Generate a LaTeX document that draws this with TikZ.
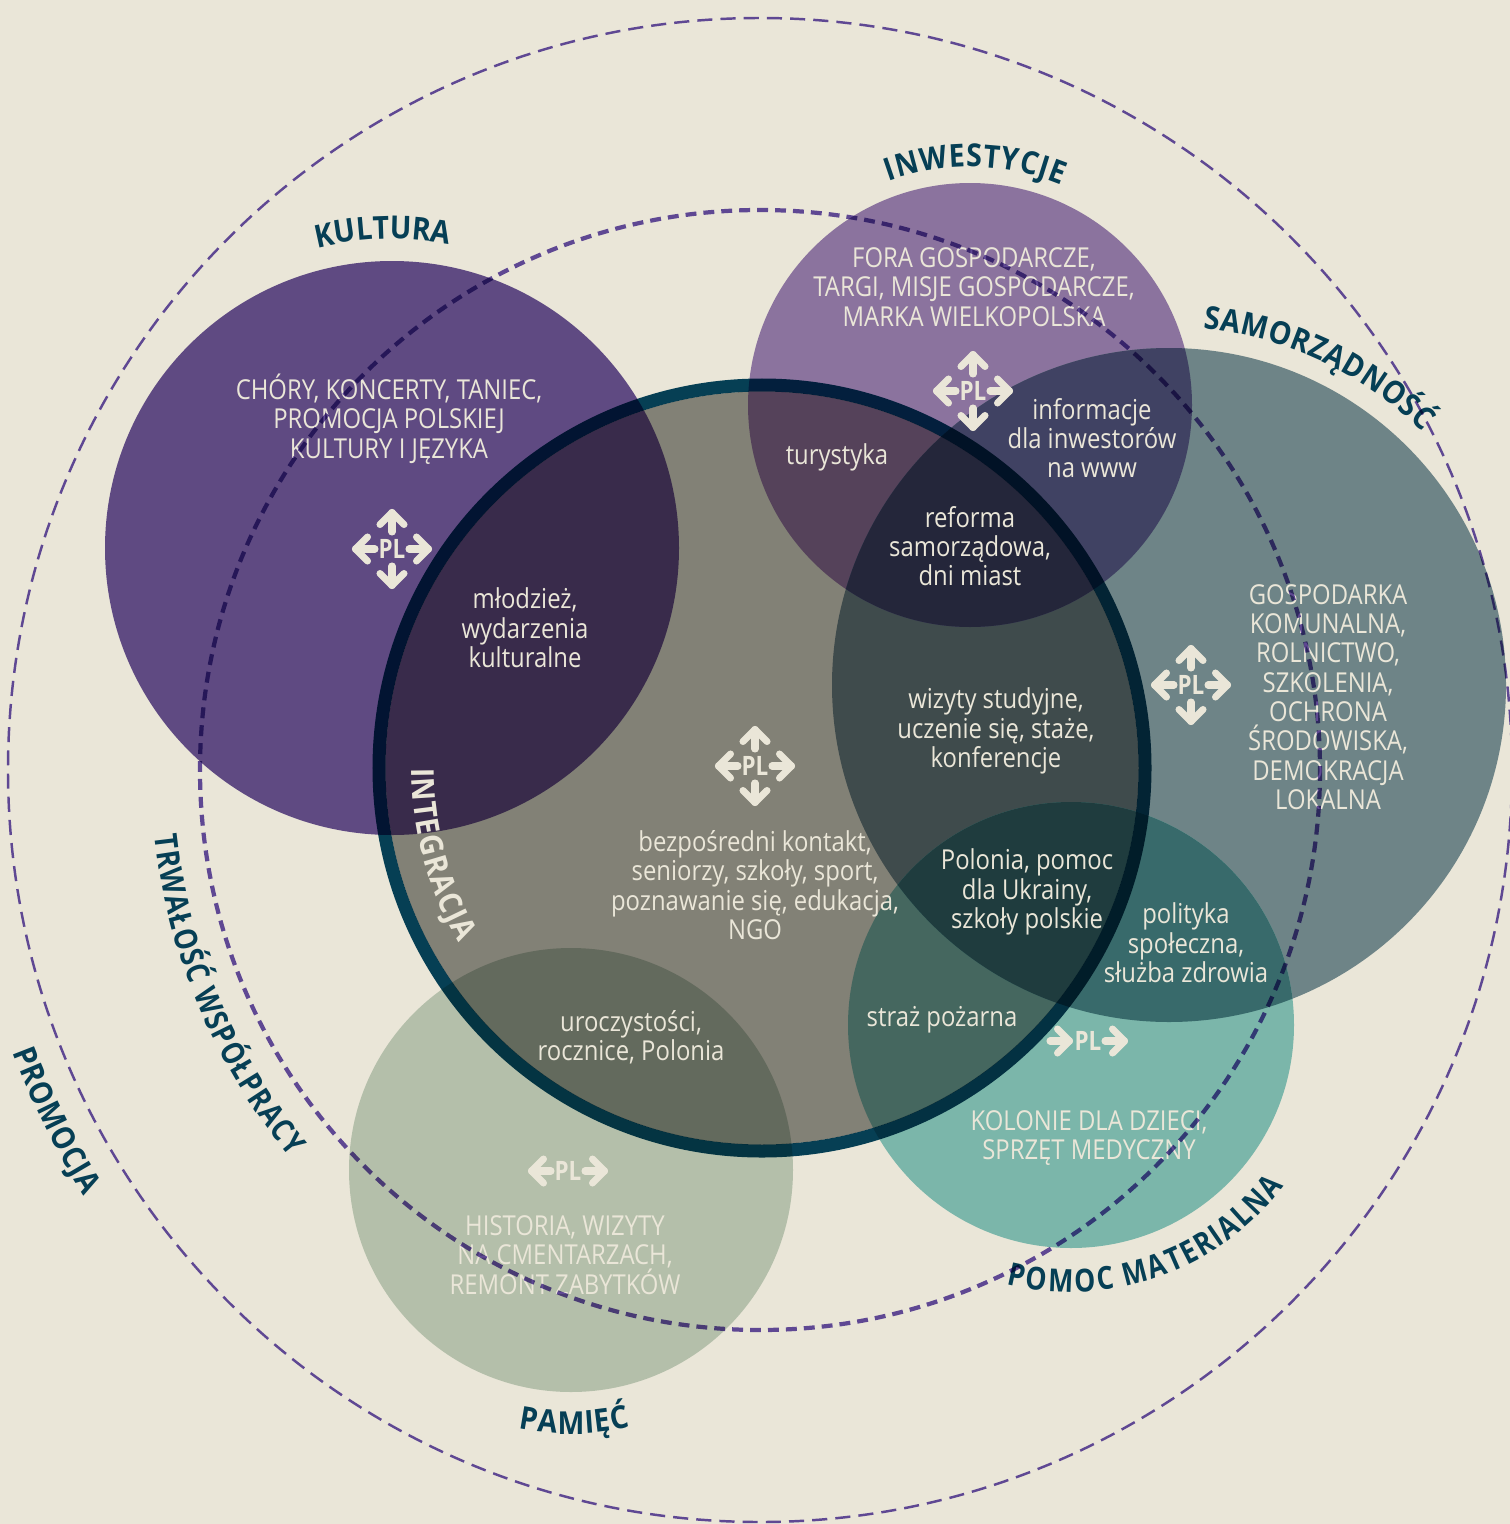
\documentclass[tikz,border=0pt]{standalone}
\usepackage{fontspec}
\usepackage{xcolor}
\usepackage{tikz}
\usetikzlibrary{positioning,calc,decorations.text}
\setmainfont[FakeStretch=0.87]{Open Sans}
\newfontfamily\labelfont[FakeStretch=0.84]{Open Sans Bold}
\newfontfamily\labelszer[FakeStretch=0.90]{Open Sans Bold}

\definecolor{tlo}{HTML}{EAE6D8}
\definecolor{granat}{HTML}{063F55}
\definecolor{cSrodek}{HTML}{828176}
\definecolor{cKultura}{HTML}{5F4A82}
\definecolor{cInwest}{HTML}{8B739E}
\definecolor{cSamorzad}{HTML}{6E8487}
\definecolor{cPomoc}{HTML}{7BB6AA}
\definecolor{cPamiec}{HTML}{B4BFAA}
\definecolor{cSrKultura}{HTML}{392B4B}
\definecolor{cSrInwest}{HTML}{55425A}
\definecolor{cSrSamorzad}{HTML}{3F4B4C}
\definecolor{cSrPomoc}{HTML}{45675F}
\definecolor{cSrPamiec}{HTML}{636A5D}
\definecolor{cInwSam}{HTML}{404263}
\definecolor{cPomSam}{HTML}{386A6B}
\definecolor{cSrInwSam}{HTML}{24263A}
\definecolor{cSrPomSam}{HTML}{1F3C3E}
\definecolor{cPierscien}{HTML}{074664}
\definecolor{cKreska}{HTML}{6850AE}

% kola
\newcommand{\kolKultura}{(392,548) circle (287)}
\newcommand{\kolInwest}{(970,405) circle (222)}
\newcommand{\kolSamorzad}{(1169,685) circle (337)}
\newcommand{\kolPomoc}{(1071,1025) circle (223)}
\newcommand{\kolPamiec}{(571,1170) circle (222)}
\newcommand{\kolSrodek}{(762,768) circle (376.5)}

\newcommand{\nakladka}[3]{\begin{scope}\clip #1;\fill[#3] #2;\end{scope}}
\newcommand{\nakladkaT}[4]{\begin{scope}\clip #1;\clip #2;\fill[#4] #3;\end{scope}}
% napis po luku: srodek, promien, kat poczatkowy, kat koncowy, kolor, krój, tekst
\newcommand{\luknapis}[7]{\path[decorate,decoration={text along path,text format delimiters={|}{|},
    text color=#5,text align={fit to path},text={|#6\fontsize{9}{10}\selectfont|#7}}]
    ($#1+(#3:#2)$) arc[start angle=#3,end angle=#4,radius=#2];}

\tikzset{
    opis/.style={align=center,text=tlo,inner sep=0pt,font=\fontsize{7.8}{8.34}\selectfont,
        execute at begin node={\lineskiplimit=-10pt}},
    plnode/.style={text=tlo,inner sep=0pt,font=\labelfont\fontsize{7.6}{8}\selectfont},
    plline/.style={draw=tlo,line width=2pt,line cap=round,line join=round},
    plarrow/.pic={
        \draw[plline] (17,0) -- (36.5,0);
        \draw[plline] (24.5,-12) -- (36.5,0) -- (24.5,12);
    },
}

\begin{document}
\begin{tikzpicture}[x=0.01cm,y=-0.01cm]
    \useasboundingbox (0,0) rectangle (1510,1524);
    \fill[tlo] (0,0) rectangle (1510,1524);

    % kola podstawowe
    \fill[cKultura] \kolKultura;
    \fill[cInwest] \kolInwest;
    \fill[cSamorzad] \kolSamorzad;
    \fill[cPomoc] \kolPomoc;
    \fill[cPamiec] \kolPamiec;
    \fill[cSrodek] \kolSrodek;

    % czesci wspolne
    \nakladka{\kolSrodek}{\kolKultura}{cSrKultura}
    \nakladka{\kolSrodek}{\kolInwest}{cSrInwest}
    \nakladka{\kolSrodek}{\kolSamorzad}{cSrSamorzad}
    \nakladka{\kolSrodek}{\kolPomoc}{cSrPomoc}
    \nakladka{\kolSrodek}{\kolPamiec}{cSrPamiec}
    \nakladka{\kolInwest}{\kolSamorzad}{cInwSam}
    \nakladka{\kolPomoc}{\kolSamorzad}{cPomSam}
    \nakladkaT{\kolSrodek}{\kolInwest}{\kolSamorzad}{cSrInwSam}
    \nakladkaT{\kolSrodek}{\kolPomoc}{\kolSamorzad}{cSrPomSam}

    % pierscien INTEGRACJA
    \begin{scope}[blend mode=multiply]
        \draw[line width=3.7pt,cPierscien] (762,768) circle (383);
    \end{scope}

    % opisy
    \node[opis] (tKultura) at (389,419) {CHÓRY, KONCERTY, TANIEC,\\PROMOCJA POLSKIEJ\\KULTURY I JĘZYKA};
    \node[opis] (tInwest) at (974,287) {FORA GOSPODARCZE,\\TARGI, MISJE GOSPODARCZE,\\MARKA WIELKOPOLSKA};
    \node[opis] (tTurystyka) at (837,457) {turystyka};
    \node[opis] (tInfo) at (1092,438) {informacje\\dla inwestorów\\na www};
    \node[opis] (tReforma) at (970,546) {reforma\\samorządowa,\\dni miast};
    \node[opis] (tMlodziez) at (525,628) {młodzież,\\wydarzenia\\kulturalne};
    \node[opis] (tSamorzad) at (1328,697) {GOSPODARKA\\KOMUNALNA,\\ROLNICTWO,\\SZKOLENIA,\\OCHRONA\\ŚRODOWISKA,\\DEMOKRACJA\\LOKALNA};
    \node[opis] (tWizyty) at (996,731) {wizyty studyjne,\\uczenie się, staże,\\konferencje};
    \node[opis] (tKontakt) at (755,885) {bezpośredni kontakt,\\seniorzy, szkoły, sport,\\poznawanie się, edukacja,\\NGO};
    \node[opis] (tPolonia) at (1027,892) {Polonia, pomoc\\dla Ukrainy,\\szkoły polskie};
    \node[opis] (tPolityka) at (1186,943) {polityka\\społeczna,\\służba zdrowia};
    \node[opis] (tStraz) at (942,1020) {straż pożarna};
    \node[opis] (tKolonie) at (1089,1138) {KOLONIE DLA DZIECI,\\SPRZĘT MEDYCZNY};
    \node[opis] (tUroczyst) at (631,1037) {uroczystości,\\rocznice, Polonia};
    \node[opis] (tHistoria) at (565,1255) {HISTORIA, WIZYTY\\NA CMENTARZACH,\\REMONT ZABYTKÓW};

    % znaczniki PL
    \foreach \name/\px/\py in {plKultura/392/549,plInwest/973/391,plSamorzad/1191/685,plSrodek/755/766} {
        \node[plnode] (\name) at (\px,\py) {PL};
        \foreach \a in {0,90,180,270} {
            \pic[rotate=\a] at (\px,\py) {plarrow};
        }
    }
    \node[plnode] (plPamiec) at (568,1171) {PL};
    \pic at (568,1171) {plarrow};
    \pic[rotate=180] at (568,1171) {plarrow};
    \node[plnode] (plPomoc) at (1088,1041) {PL};
    \pic at (1088,1041) {plarrow};
    \pic at (1033,1041) {plarrow};

    % nazwy po lukach
    \luknapis{(392,548)}{309}{-104}{-79.5}{granat}{\labelszer}{KULTURA}
    \luknapis{(970,405)}{238}{-110}{-67.5}{granat}{\labelszer}{INWESTYCJE}
    \luknapis{(1169,685)}{358}{-84.5}{-45}{granat}{\labelszer}{SAMORZĄDNOŚĆ}
    \luknapis{(571,1170)}{264}{101.5}{77}{granat}{\labelszer}{PAMIĘĆ}
    \luknapis{(1071,1025)}{267}{104}{37}{granat}{\labelfont}{POMOC MATERIALNA}
    \luknapis{(760,770)}{799}{159.3}{147.8}{granat}{\labelszer}{PROMOCJA}
    \luknapis{(760,770)}{609}{173.8}{140.5}{granat}{\labelfont}{TRWAŁOŚĆ WSPÓŁPRACY}
    \luknapis{(762,768)}{350}{180}{150}{tlo}{\labelszer}{INTEGRACJA}

    % okregi przerywane
    \begin{scope}[blend mode=multiply]
        \draw[cKreska,line width=0.7pt,dash pattern=on 4.3pt off 2.3pt] (760,770) circle (752);
        \draw[cKreska,line width=1.2pt,dash pattern=on 3.1pt off 2pt] (760,770) circle (560);
    \end{scope}
\end{tikzpicture}
\end{document}
